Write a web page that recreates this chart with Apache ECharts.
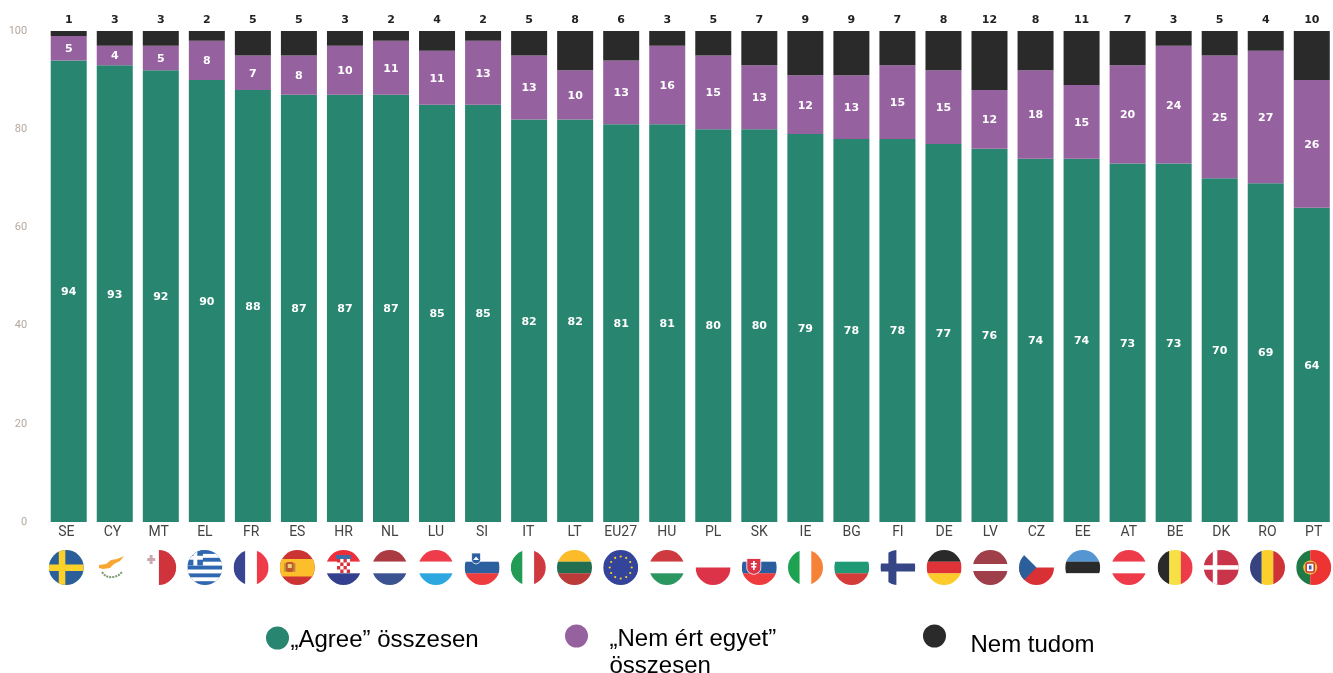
<!DOCTYPE html>
<html><head><meta charset="utf-8">
<style>html,body{margin:0;padding:0;background:#fff}#c{width:1333px;height:673px}</style>
<script src="https://cdn.jsdelivr.net/npm/echarts@6/dist/echarts.min.js"></script>
</head><body><div id="c"></div>
<script>
const categories = ['SE','CY','MT','EL','FR','ES','HR','NL','LU','SI','IT','LT','EU27','HU','PL','SK','IE','BG','FI','DE','LV','CZ','EE','AT','BE','DK','RO','PT'];
const agree = [94,93,92,90,88,87,87,87,85,85,82,82,81,81,80,80,79,78,78,77,76,74,74,73,73,70,69,64];
const disagree = [5,4,5,8,7,8,10,11,11,13,13,10,13,16,15,13,12,13,15,15,12,18,15,20,24,25,27,26];
const dontKnow = [1,3,3,2,5,5,3,2,4,2,5,8,6,3,5,7,9,9,7,8,12,8,11,7,3,5,4,10];
const seriesNames = ['„Agree” összesen','„Nem ért egyet”\nösszesen','Nem tudom'];
const colors = ['#288570','#96619f','#2a2a2a'];

// flag artwork helpers (decorative icons drawn on the category axis)
const R=(x,y,w,h,c)=>`<rect x="${x}" y="${y}" width="${w}" height="${h}" fill="${c}"/>`;
const H=(a,b,c)=>R(0,0,35,11.8,a)+R(0,11.7,35,11.8,b)+R(0,23.3,35,11.8,c);
const V=(a,b,c)=>R(0,0,11.8,35,a)+R(11.7,0,11.8,35,b)+R(23.3,0,11.8,35,c);
const W='#ffffff';
const shield=(x,y,w,h,c)=>`<path d="M${x} ${y}h${w}v${h*0.6}q0 ${h*0.3} ${-w/2} ${h*0.4}q${-w/2} ${-h*0.1} ${-w/2} ${-h*0.4}z" fill="${c}" stroke="#fff" stroke-width="0.8"/>`;
const stars=(()=>{let s='';for(let i=0;i<12;i++){const a=i*Math.PI/6;s+=`<circle cx="${17.5+11*Math.cos(a)}" cy="${17.5+11*Math.sin(a)}" r="1.1" fill="#f5d327"/>`;}return s;})();
const flagArt = {
 SE:R(0,0,35,35,'#2b5f9a')+R(10,0,6.5,35,'#fcd12a')+R(0,14.5,35,6.5,'#fcd12a'),
 CY:`<path d="M4 15l7-1 5-4 6-1 7-3 -4 5 -6 3 -4 4 -7 1 -4-1z" fill="#f8a733"/><path d="M7 22q4 6 10 5q6 0 10-5" fill="none" stroke="#7f9a70" stroke-width="2" stroke-dasharray="2 1"/>`,
 MT:R(17.5,0,18,35,'#cf333b')+R(0,0,17.5,35,W)+`<path d="M6 8h2.4v-3h3v3h2.6v3h-2.6v3h-3v-3h-2.4z" fill="#c9a9ad"/>`,
 EL:R(0,0,35,35,'#2f67b1')+[3.9,11.7,19.5,27.3].map(y=>R(0,y,35,3.9,W)).join('')+R(0,0,15.5,15.5,'#2f67b1')+R(6,0,3.9,15.5,W)+R(0,5.8,15.5,3.9,W),
 FR:V('#3a4592',W,'#ee3a49'),
 ES:R(0,0,35,35,'#cc3333')+R(0,9,35,17.5,'#fcbe2b')+`<rect x="6" y="12" width="8" height="10" rx="2" fill="#c0562a"/><rect x="8" y="14" width="4" height="4" fill="#e8d080"/><rect x="4.5" y="13" width="1.5" height="9" fill="#b08a40"/><rect x="14" y="13" width="1.5" height="9" fill="#b08a40"/>`,
 HR:H('#ee2f3a',W,'#34408f')+R(10,5,15,4,'#3f6fa8')+`<rect x="11" y="9" width="13" height="14" fill="#fff"/>`+[0,1,2,3].map(r=>[0,1,2,3].filter(c=>(r+c)%2==0).map(c=>R(11+c*3.25,9+r*3.5,3.25,3.5,'#d8323c')).join('')).join(''),
 NL:H('#ac3a42',W,'#3b5491'),
 LU:H('#ee3c4a',W,'#2da7df'),
 SI:H(W,'#2b5f9f','#ee3b3d')+shield(7,3,9,11,'#2b5f9f')+`<path d="M8.5 10l3-3.5 3 3.5z" fill="#fff"/>`,
 IT:V('#249a57',W,'#ce3a40'),
 LT:H('#fcbc2a','#226e50','#bb3a3a'),
 EU27:R(0,0,35,35,'#35449b')+stars,
 HU:H('#ce3a40',W,'#2a9660'),
 PL:R(0,17.5,35,17.5,'#dd3349'),
 SK:H(W,'#2b5e9f','#ee3b3d')+shield(5,8.5,14,16,'#dd3349')+R(11.2,11,1.7,9,W)+R(9,13,6,1.5,W)+R(9.5,16,5,1.5,W),
 IE:V('#1da252',W,'#f68238'),
 BG:H(W,'#209a74','#d33c38'),
 FI:R(8,0,8,35,'#354585')+R(0,13.5,35,8,'#354585'),
 DE:H('#2a2a2a','#e03338','#fdcb2b'),
 LV:R(0,0,35,14,'#9e3f4a')+R(0,21,35,14,'#9e3f4a'),
 CZ:R(0,17.5,35,17.5,'#d93036')+`<path d="M0 0L17.5 17.5L0 35z" fill="#2b5e9b"/>`,
 EE:H('#5595d2','#2a2a2a',W),
 AT:H('#ee3b4a',W,'#ee3b4a'),
 BE:V('#2a2a2a','#f7e045','#ee3b4a'),
 DK:R(0,0,35,35,'#c9344a')+R(9,0,4.5,35,W)+R(0,15.2,35,4.5,W),
 RO:V('#36437f','#fcd02c','#cf3338'),
 PT:R(0,0,14,35,'#1f7a48')+R(14,0,21,35,'#ee3333')+`<circle cx="14" cy="17.5" r="7" fill="#e8c53a"/><rect x="10" y="13" width="8" height="9" rx="1.5" fill="#fff" stroke="#c8323a" stroke-width="1.5"/><rect x="12.7" y="15.5" width="2.6" height="4" fill="#3b5da8"/>`
};
const flagUri = k => 'data:image/svg+xml;charset=utf-8,' + encodeURIComponent(
 `<svg xmlns="http://www.w3.org/2000/svg" width="35" height="35" viewBox="0 0 35 35"><defs><clipPath id="c"><circle cx="17.5" cy="17.5" r="17.5"/></clipPath></defs><g clip-path="url(#c)">${flagArt[k]}</g></svg>`);

const rich = {
  code:{fontFamily:'Roboto',fontSize:14,color:'#444',lineHeight:16,height:16},
  gap:{fontSize:8,lineHeight:10,height:10,color:'transparent'}
};
categories.forEach((k,i)=>{ rich['f'+i]={width:35,height:35,lineHeight:35,backgroundColor:{image:flagUri(k)}}; });

const labelBase={show:true,position:'inside',offset:[0,1],color:'#fff',fontFamily:'DejaVu Sans',fontWeight:'bold',fontSize:11};
const legendBase={selectedMode:false,itemWidth:16,itemHeight:16,icon:'circle'};
const legendText=(leftPad,spacer,lh)=>({padding:[0,0,0,leftPad],rich:{
  s:{fontSize:8,lineHeight:spacer,height:spacer,color:'transparent'},
  t:{fontFamily:'Liberation Sans',fontSize:24,lineHeight:lh,height:lh,color:'#000'}}});
const legendFormatter=name=>'{s| }\n'+name.split('\n').map(l=>`{t|${l}}`).join('\n');

const chart=echarts.init(document.getElementById('c'),null,{renderer:'canvas'});
chart.setOption({
  animation:false,
  backgroundColor:'#fff',
  grid:[
    {left:45.7,top:31,width:1289.1,height:491,containLabel:false,outerBoundsMode:'none'},
    {left:43.2,top:522,width:1293.6,height:1,containLabel:false,outerBoundsMode:'none'}
  ],
  legend:[
    {...legendBase,data:[seriesNames[0]],left:261,top:615,formatter:legendFormatter,textStyle:legendText(0,4,28),itemStyle:{borderWidth:7,borderColor:colors[0]}},
    {...legendBase,data:[seriesNames[1]],left:560,top:587.5,formatter:legendFormatter,textStyle:legendText(20,33,27),itemStyle:{borderWidth:7,borderColor:colors[1]}},
    {...legendBase,data:[seriesNames[2]],left:918,top:608,formatter:legendFormatter,textStyle:legendText(23,18,28),itemStyle:{borderWidth:7,borderColor:colors[2]}}
  ],
  xAxis:[
    {type:'category',gridIndex:0,data:categories,axisLine:{show:false},axisTick:{show:false},axisLabel:{show:false}},
    {type:'category',gridIndex:1,data:categories,axisLine:{show:false},axisTick:{show:false},
     axisLabel:{show:true,interval:0,margin:1,align:'center',verticalAlign:'top',
       formatter:(v,i)=>`{code|${v}}\n{gap| }\n{f${i}|}`,rich}}
  ],
  yAxis:[
    {type:'value',gridIndex:0,min:0,max:100,interval:20,axisLine:{show:false},axisTick:{show:false},splitLine:{show:false},
     axisLabel:{margin:18.5,fontFamily:'Roboto',fontSize:11,color:'#b5a89f'}},
    {type:'value',gridIndex:1,show:false}
  ],
  series:[
    {name:seriesNames[0],type:'bar',stack:'t',barWidth:36,data:agree,itemStyle:{color:colors[0]},label:labelBase},
    {name:seriesNames[1],type:'bar',stack:'t',barWidth:36,data:disagree,itemStyle:{color:colors[1]},label:labelBase},
    {name:seriesNames[2],type:'bar',stack:'t',barWidth:36,data:dontKnow,itemStyle:{color:colors[2]},
     label:{...labelBase,position:'top',distance:6,color:'#222',offset:[0,1]}}
  ]
});
</script></body></html>
